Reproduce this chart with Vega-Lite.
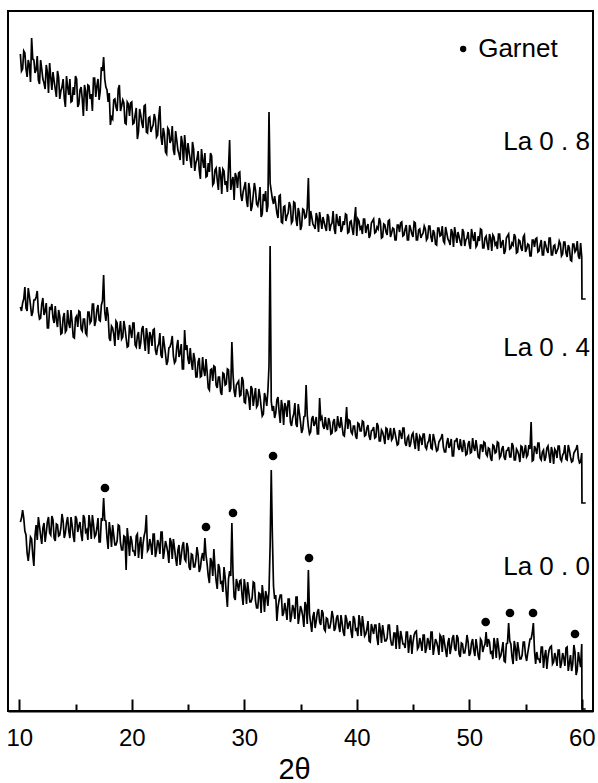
{
  "$schema": "https://vega.github.io/schema/vega-lite/v6.json",
  "description": "XRD patterns of La-doped samples, garnet peaks marked",
  "width": 585,
  "height": 700,
  "autosize": "none",
  "padding": {"left": 8, "top": 11, "right": 5, "bottom": 72},
  "background": "white",
  "config": {
    "view": {"stroke": "black", "strokeWidth": 2},
    "font": "Liberation Sans"
  },
  "datasets": {
    "xrd": [
      {"t":10.1,"la08":657,"la04":404,"la00":189},
      {"t":10.3,"la08":642,"la04":408,"la00":201},
      {"t":10.5,"la08":658,"la04":424,"la00":180},
      {"t":10.7,"la08":634,"la04":400,"la00":158},
      {"t":10.9,"la08":646,"la04":415,"la00":161},
      {"t":11.1,"la08":673,"la04":395,"la00":172},
      {"t":11.3,"la08":651,"la04":411,"la00":145},
      {"t":11.5,"la08":641,"la04":414,"la00":186},
      {"t":11.7,"la08":631,"la04":399,"la00":194},
      {"t":11.9,"la08":651,"la04":393,"la00":175},
      {"t":12.1,"la08":632,"la04":413,"la00":183},
      {"t":12.3,"la08":622,"la04":400,"la00":169},
      {"t":12.5,"la08":639,"la04":383,"la00":189},
      {"t":12.7,"la08":648,"la04":403,"la00":178},
      {"t":12.9,"la08":621,"la04":407,"la00":195},
      {"t":13.1,"la08":630,"la04":388,"la00":173},
      {"t":13.3,"la08":614,"la04":391,"la00":187},
      {"t":13.5,"la08":634,"la04":401,"la00":175},
      {"t":13.7,"la08":620,"la04":377,"la00":183},
      {"t":13.9,"la08":632,"la04":393,"la00":190},
      {"t":14.1,"la08":604,"la04":379,"la00":178},
      {"t":14.3,"la08":624,"la04":401,"la00":194},
      {"t":14.5,"la08":632,"la04":383,"la00":173},
      {"t":14.7,"la08":610,"la04":389,"la00":186},
      {"t":14.9,"la08":616,"la04":373,"la00":169},
      {"t":15.1,"la08":632,"la04":395,"la00":192},
      {"t":15.3,"la08":607,"la04":400,"la00":185},
      {"t":15.5,"la08":624,"la04":382,"la00":177},
      {"t":15.7,"la08":595,"la04":392,"la00":196},
      {"t":15.9,"la08":620,"la04":378,"la00":179},
      {"t":16.1,"la08":626,"la04":399,"la00":171},
      {"t":16.3,"la08":612,"la04":388,"la00":187},
      {"t":16.5,"la08":600,"la04":407,"la00":196},
      {"t":16.7,"la08":633,"la04":385,"la00":174},
      {"t":16.9,"la08":625,"la04":401,"la00":183},
      {"t":17.1,"la08":611,"la04":391,"la00":169},
      {"t":17.3,"la08":644,"la04":406,"la00":193},
      {"t":17.5,"la08":654,"la04":436,"la00":213},
      {"t":17.7,"la08":624,"la04":390,"la00":190},
      {"t":17.9,"la08":609,"la04":396,"la00":162},
      {"t":18.1,"la08":586,"la04":370,"la00":180},
      {"t":18.3,"la08":592,"la04":383,"la00":186},
      {"t":18.5,"la08":612,"la04":365,"la00":166},
      {"t":18.7,"la08":600,"la04":388,"la00":170},
      {"t":18.9,"la08":626,"la04":380,"la00":185},
      {"t":19.1,"la08":605,"la04":372,"la00":161},
      {"t":19.3,"la08":608,"la04":390,"la00":175},
      {"t":19.5,"la08":587,"la04":373,"la00":141},
      {"t":19.7,"la08":607,"la04":365,"la00":171},
      {"t":19.9,"la08":608,"la04":380,"la00":175},
      {"t":20.1,"la08":587,"la04":388,"la00":160},
      {"t":20.3,"la08":596,"la04":366,"la00":155},
      {"t":20.5,"la08":572,"la04":375,"la00":177},
      {"t":20.7,"la08":602,"la04":362,"la00":167},
      {"t":20.9,"la08":588,"la04":382,"la00":152},
      {"t":21.1,"la08":605,"la04":371,"la00":175},
      {"t":21.3,"la08":579,"la04":383,"la00":196},
      {"t":21.5,"la08":593,"la04":357,"la00":162},
      {"t":21.7,"la08":579,"la04":375,"la00":166},
      {"t":21.9,"la08":586,"la04":381,"la00":177},
      {"t":22.1,"la08":592,"la04":361,"la00":154},
      {"t":22.3,"la08":576,"la04":364,"la00":171},
      {"t":22.5,"la08":605,"la04":378,"la00":157},
      {"t":22.7,"la08":566,"la04":353,"la00":179},
      {"t":22.9,"la08":577,"la04":366,"la00":160},
      {"t":23.1,"la08":557,"la04":346,"la00":165},
      {"t":23.3,"la08":581,"la04":363,"la00":148},
      {"t":23.5,"la08":571,"la04":368,"la00":169},
      {"t":23.7,"la08":561,"la04":355,"la00":172},
      {"t":23.9,"la08":580,"la04":350,"la00":153},
      {"t":24.1,"la08":561,"la04":371,"la00":161},
      {"t":24.3,"la08":551,"la04":358,"la00":146},
      {"t":24.5,"la08":568,"la04":342,"la00":165},
      {"t":24.7,"la08":576,"la04":381,"la00":152},
      {"t":24.9,"la08":550,"la04":366,"la00":168},
      {"t":25.1,"la08":559,"la04":347,"la00":144},
      {"t":25.3,"la08":543,"la04":349,"la00":157},
      {"t":25.5,"la08":562,"la04":358,"la00":144},
      {"t":25.7,"la08":548,"la04":334,"la00":151},
      {"t":25.9,"la08":560,"la04":349,"la00":156},
      {"t":26.1,"la08":532,"la04":334,"la00":143},
      {"t":26.3,"la08":551,"la04":354,"la00":158},
      {"t":26.5,"la08":558,"la04":335,"la00":173},
      {"t":26.7,"la08":535,"la04":339,"la00":147},
      {"t":26.9,"la08":539,"la04":321,"la00":128},
      {"t":27.1,"la08":555,"la04":342,"la00":149},
      {"t":27.3,"la08":528,"la04":345,"la00":162},
      {"t":27.5,"la08":543,"la04":326,"la00":130},
      {"t":27.7,"la08":521,"la04":334,"la00":147},
      {"t":27.9,"la08":537,"la04":319,"la00":128},
      {"t":28.1,"la08":542,"la04":338,"la00":119},
      {"t":28.3,"la08":526,"la04":326,"la00":134},
      {"t":28.5,"la08":519,"la04":342,"la00":104},
      {"t":28.7,"la08":571,"la04":319,"la00":140},
      {"t":28.9,"la08":529,"la04":369,"la00":188},
      {"t":29.1,"la08":511,"la04":320,"la00":114},
      {"t":29.3,"la08":534,"la04":326,"la00":132},
      {"t":29.5,"la08":538,"la04":330,"la00":120},
      {"t":29.7,"la08":516,"la04":316,"la00":131},
      {"t":29.9,"la08":519,"la04":330,"la00":106},
      {"t":30.1,"la08":529,"la04":308,"la00":123},
      {"t":30.3,"la08":504,"la04":319,"la00":129},
      {"t":30.5,"la08":521,"la04":301,"la00":109},
      {"t":30.7,"la08":505,"la04":322,"la00":113},
      {"t":30.9,"la08":528,"la04":314,"la00":128},
      {"t":31.1,"la08":507,"la04":304,"la00":103},
      {"t":31.3,"la08":512,"la04":322,"la00":118},
      {"t":31.5,"la08":494,"la04":304,"la00":98},
      {"t":31.7,"la08":517,"la04":297,"la00":115},
      {"t":31.9,"la08":520,"la04":313,"la00":120},
      {"t":32.1,"la08":505,"la04":320,"la00":105},
      {"t":32.3,"la08":528,"la04":465,"la00":165},
      {"t":32.5,"la08":512,"la04":300,"la00":175},
      {"t":32.7,"la08":515,"la04":293,"la00":112},
      {"t":32.9,"la08":498,"la04":311,"la00":90},
      {"t":33.1,"la08":515,"la04":299,"la00":111},
      {"t":33.3,"la08":489,"la04":311,"la00":116},
      {"t":33.5,"la08":504,"la04":286,"la00":98},
      {"t":33.7,"la08":490,"la04":304,"la00":101},
      {"t":33.9,"la08":498,"la04":310,"la00":112},
      {"t":34.1,"la08":505,"la04":289,"la00":89},
      {"t":34.3,"la08":490,"la04":293,"la00":106},
      {"t":34.5,"la08":508,"la04":308,"la00":92},
      {"t":34.7,"la08":485,"la04":284,"la00":114},
      {"t":34.9,"la08":498,"la04":298,"la00":95},
      {"t":35.1,"la08":485,"la04":278,"la00":101},
      {"t":35.3,"la08":501,"la04":294,"la00":84},
      {"t":35.5,"la08":494,"la04":326,"la00":105},
      {"t":35.7,"la08":533,"la04":284,"la00":141},
      {"t":35.9,"la08":500,"la04":279,"la00":88},
      {"t":36.1,"la08":487,"la04":295,"la00":94},
      {"t":36.3,"la08":482,"la04":288,"la00":83},
      {"t":36.5,"la08":493,"la04":277,"la00":99},
      {"t":36.7,"la08":499,"la04":313,"la00":89},
      {"t":36.9,"la08":482,"la04":294,"la00":101},
      {"t":37.1,"la08":489,"la04":282,"la00":82},
      {"t":37.3,"la08":480,"la04":285,"la00":93},
      {"t":37.5,"la08":494,"la04":293,"la00":83},
      {"t":37.7,"la08":486,"la04":277,"la00":89},
      {"t":37.9,"la08":500,"la04":289,"la00":94},
      {"t":38.1,"la08":477,"la04":280,"la00":83},
      {"t":38.3,"la08":490,"la04":295,"la00":96},
      {"t":38.5,"la08":495,"la04":283,"la00":79},
      {"t":38.7,"la08":482,"la04":285,"la00":88},
      {"t":38.9,"la08":486,"la04":275,"la00":75},
      {"t":39.1,"la08":496,"la04":304,"la00":92},
      {"t":39.3,"la08":479,"la04":291,"la00":87},
      {"t":39.5,"la08":490,"la04":279,"la00":79},
      {"t":39.7,"la08":476,"la04":285,"la00":95},
      {"t":39.9,"la08":504,"la04":275,"la00":81},
      {"t":40.1,"la08":492,"la04":288,"la00":75},
      {"t":40.3,"la08":482,"la04":280,"la00":88},
      {"t":40.5,"la08":477,"la04":290,"la00":95},
      {"t":40.7,"la08":492,"la04":275,"la00":75},
      {"t":40.9,"la08":484,"la04":283,"la00":82},
      {"t":41.1,"la08":473,"la04":275,"la00":70},
      {"t":41.3,"la08":488,"la04":280,"la00":87},
      {"t":41.5,"la08":492,"la04":284,"la00":77},
      {"t":41.7,"la08":479,"la04":274,"la00":86},
      {"t":41.9,"la08":482,"la04":285,"la00":66},
      {"t":42.1,"la08":489,"la04":270,"la00":81},
      {"t":42.3,"la08":474,"la04":279,"la00":86},
      {"t":42.5,"la08":486,"la04":267,"la00":70},
      {"t":42.7,"la08":476,"la04":282,"la00":73},
      {"t":42.9,"la08":491,"la04":276,"la00":86},
      {"t":43.1,"la08":478,"la04":271,"la00":66},
      {"t":43.3,"la08":482,"la04":283,"la00":78},
      {"t":43.5,"la08":471,"la04":272,"la00":62},
      {"t":43.7,"la08":486,"la04":267,"la00":75},
      {"t":43.9,"la08":488,"la04":277,"la00":80},
      {"t":44.1,"la08":475,"la04":283,"la00":67},
      {"t":44.3,"la08":482,"la04":268,"la00":63},
      {"t":44.5,"la08":471,"la04":273,"la00":79},
      {"t":44.7,"la08":486,"la04":264,"la00":70},
      {"t":44.9,"la08":477,"la04":276,"la00":57},
      {"t":45.1,"la08":489,"la04":269,"la00":76},
      {"t":45.3,"la08":471,"la04":278,"la00":80},
      {"t":45.5,"la08":481,"la04":260,"la00":64},
      {"t":45.7,"la08":473,"la04":273,"la00":68},
      {"t":45.9,"la08":478,"la04":277,"la00":76},
      {"t":46.1,"la08":482,"la04":264,"la00":58},
      {"t":46.3,"la08":473,"la04":268,"la00":73},
      {"t":46.5,"la08":485,"la04":277,"la00":61},
      {"t":46.7,"la08":469,"la04":262,"la00":79},
      {"t":46.9,"la08":478,"la04":272,"la00":64},
      {"t":47.1,"la08":466,"la04":260,"la00":69},
      {"t":47.3,"la08":483,"la04":269,"la00":56},
      {"t":47.5,"la08":476,"la04":273,"la00":74},
      {"t":47.7,"la08":470,"la04":264,"la00":76},
      {"t":47.9,"la08":484,"la04":259,"la00":61},
      {"t":48.1,"la08":472,"la04":273,"la00":68},
      {"t":48.3,"la08":466,"la04":266,"la00":57},
      {"t":48.5,"la08":478,"la04":255,"la00":73},
      {"t":48.7,"la08":484,"la04":270,"la00":63},
      {"t":48.9,"la08":468,"la04":273,"la00":76},
      {"t":49.1,"la08":474,"la04":261,"la00":57},
      {"t":49.3,"la08":465,"la04":263,"la00":68},
      {"t":49.5,"la08":479,"la04":271,"la00":58},
      {"t":49.7,"la08":471,"la04":256,"la00":65},
      {"t":49.9,"la08":479,"la04":267,"la00":69},
      {"t":50.1,"la08":462,"la04":258,"la00":58},
      {"t":50.3,"la08":475,"la04":273,"la00":72},
      {"t":50.5,"la08":479,"la04":260,"la00":55},
      {"t":50.7,"la08":466,"la04":263,"la00":64},
      {"t":50.9,"la08":470,"la04":253,"la00":51},
      {"t":51.1,"la08":481,"la04":266,"la00":70},
      {"t":51.3,"la08":463,"la04":269,"la00":64},
      {"t":51.5,"la08":475,"la04":257,"la00":79},
      {"t":51.7,"la08":461,"la04":263,"la00":72},
      {"t":51.9,"la08":473,"la04":253,"la00":58},
      {"t":52.1,"la08":476,"la04":266,"la00":52},
      {"t":52.3,"la08":466,"la04":258,"la00":66},
      {"t":52.5,"la08":462,"la04":269,"la00":73},
      {"t":52.7,"la08":477,"la04":253,"la00":53},
      {"t":52.9,"la08":468,"la04":262,"la00":61},
      {"t":53.1,"la08":457,"la04":254,"la00":50},
      {"t":53.3,"la08":473,"la04":260,"la00":67},
      {"t":53.5,"la08":477,"la04":264,"la00":88},
      {"t":53.7,"la08":463,"la04":254,"la00":67},
      {"t":53.9,"la08":466,"la04":265,"la00":47},
      {"t":54.1,"la08":474,"la04":251,"la00":63},
      {"t":54.3,"la08":459,"la04":260,"la00":69},
      {"t":54.5,"la08":470,"la04":249,"la00":52},
      {"t":54.7,"la08":460,"la04":264,"la00":56},
      {"t":54.9,"la08":476,"la04":259,"la00":69},
      {"t":55.1,"la08":462,"la04":254,"la00":50},
      {"t":55.3,"la08":466,"la04":266,"la00":65},
      {"t":55.5,"la08":455,"la04":289,"la00":72},
      {"t":55.7,"la08":471,"la04":251,"la00":88},
      {"t":55.9,"la08":472,"la04":262,"la00":47},
      {"t":56.1,"la08":459,"la04":268,"la00":52},
      {"t":56.3,"la08":466,"la04":253,"la00":48},
      {"t":56.5,"la08":456,"la04":259,"la00":64},
      {"t":56.7,"la08":470,"la04":250,"la00":55},
      {"t":56.9,"la08":461,"la04":263,"la00":42},
      {"t":57.1,"la08":473,"la04":256,"la00":61},
      {"t":57.3,"la08":456,"la04":264,"la00":65},
      {"t":57.5,"la08":465,"la04":247,"la00":49},
      {"t":57.7,"la08":457,"la04":260,"la00":53},
      {"t":57.9,"la08":463,"la04":265,"la00":61},
      {"t":58.1,"la08":467,"la04":252,"la00":43},
      {"t":58.3,"la08":457,"la04":256,"la00":58},
      {"t":58.5,"la08":469,"la04":266,"la00":45},
      {"t":58.7,"la08":454,"la04":251,"la00":64},
      {"t":58.9,"la08":463,"la04":261,"la00":48},
      {"t":59.1,"la08":450,"la04":249,"la00":40},
      {"t":59.3,"la08":467,"la04":258,"la00":66},
      {"t":59.5,"la08":461,"la04":262,"la00":36},
      {"t":59.7,"la08":455,"la04":253,"la00":59},
      {"t":59.9,"la08":468,"la04":249,"la00":44},
      {"t":60.0,"la08":454,"la04":258,"la00":67},
      {"t":60.02,"la08":412,"la04":208,"la00":2},
      {"t":60.35,"la08":412,"la04":208,"la00":2},
      {"t":10.2,"la08":640,"la04":400,"la00":193},
      {"t":10.4,"la08":660,"la04":412,"la00":193},
      {"t":10.6,"la08":642,"la04":403,"la00":176},
      {"t":10.8,"la08":651,"la04":423,"la00":150},
      {"t":11.0,"la08":629,"la04":406,"la00":174},
      {"t":11.2,"la08":652,"la04":399,"la00":156},
      {"t":11.4,"la08":638,"la04":411,"la00":175},
      {"t":11.6,"la08":655,"la04":420,"la00":171},
      {"t":11.8,"la08":627,"la04":392,"la00":185},
      {"t":12.0,"la08":642,"la04":407,"la00":167},
      {"t":12.2,"la08":628,"la04":396,"la00":188},
      {"t":12.4,"la08":646,"la04":408,"la00":178},
      {"t":12.6,"la08":618,"la04":383,"la00":194},
      {"t":12.8,"la08":634,"la04":402,"la00":176},
      {"t":13.0,"la08":639,"la04":393,"la00":191},
      {"t":13.2,"la08":622,"la04":405,"la00":170},
      {"t":13.4,"la08":640,"la04":384,"la00":186},
      {"t":13.6,"la08":612,"la04":395,"la00":176},
      {"t":13.8,"la08":624,"la04":378,"la00":197},
      {"t":14.0,"la08":613,"la04":398,"la00":173},
      {"t":14.2,"la08":635,"la04":381,"la00":188},
      {"t":14.4,"la08":616,"la04":388,"la00":180},
      {"t":14.6,"la08":609,"la04":401,"la00":194},
      {"t":14.8,"la08":624,"la04":374,"la00":175},
      {"t":15.0,"la08":635,"la04":393,"la00":195},
      {"t":15.2,"la08":604,"la04":384,"la00":179},
      {"t":15.4,"la08":621,"la04":399,"la00":189},
      {"t":15.6,"la08":612,"la04":380,"la00":170},
      {"t":15.8,"la08":626,"la04":392,"la00":193},
      {"t":16.0,"la08":600,"la04":376,"la00":181},
      {"t":16.2,"la08":625,"la04":399,"la00":196},
      {"t":16.4,"la08":617,"la04":390,"la00":172},
      {"t":16.6,"la08":633,"la04":407,"la00":187},
      {"t":16.8,"la08":614,"la04":390,"la00":176},
      {"t":17.0,"la08":632,"la04":406,"la00":193},
      {"t":17.2,"la08":620,"la04":390,"la00":169},
      {"t":17.4,"la08":640,"la04":410,"la00":190},
      {"t":17.6,"la08":632,"la04":399,"la00":191},
      {"t":17.8,"la08":621,"la04":404,"la00":173},
      {"t":18.0,"la08":618,"la04":373,"la00":189},
      {"t":18.2,"la08":594,"la04":385,"la00":164},
      {"t":18.4,"la08":611,"la04":377,"la00":176},
      {"t":18.6,"la08":604,"la04":390,"la00":166},
      {"t":18.8,"la08":622,"la04":371,"la00":186},
      {"t":19.0,"la08":600,"la04":390,"la00":168},
      {"t":19.2,"la08":611,"la04":374,"la00":161},
      {"t":19.4,"la08":588,"la04":383,"la00":174},
      {"t":19.6,"la08":609,"la04":364,"la00":183},
      {"t":19.8,"la08":595,"la04":386,"la00":155},
      {"t":20.0,"la08":609,"la04":373,"la00":170},
      {"t":20.2,"la08":588,"la04":388,"la00":160},
      {"t":20.4,"la08":603,"la04":364,"la00":175},
      {"t":20.6,"la08":579,"la04":379,"la00":153},
      {"t":20.8,"la08":596,"la04":368,"la00":174},
      {"t":21.0,"la08":583,"la04":385,"la00":167},
      {"t":21.2,"la08":606,"la04":360,"la00":180},
      {"t":21.4,"la08":578,"la04":375,"la00":160},
      {"t":21.6,"la08":594,"la04":379,"la00":172},
      {"t":21.8,"la08":583,"la04":365,"la00":156},
      {"t":22.0,"la08":597,"la04":382,"la00":177},
      {"t":22.2,"la08":574,"la04":356,"la00":160},
      {"t":22.4,"la08":594,"la04":367,"la00":167},
      {"t":22.6,"la08":574,"la04":356,"la00":179},
      {"t":22.8,"la08":583,"la04":375,"la00":152},
      {"t":23.0,"la08":559,"la04":357,"la00":170},
      {"t":23.2,"la08":583,"la04":350,"la00":159},
      {"t":23.4,"la08":568,"la04":364,"la00":173},
      {"t":23.6,"la08":585,"la04":375,"la00":152},
      {"t":23.8,"la08":556,"la04":348,"la00":163},
      {"t":24.0,"la08":571,"la04":364,"la00":145},
      {"t":24.2,"la08":557,"la04":354,"la00":166},
      {"t":24.4,"la08":575,"la04":367,"la00":155},
      {"t":24.6,"la08":546,"la04":342,"la00":169},
      {"t":24.8,"la08":563,"la04":361,"la00":150},
      {"t":25.0,"la08":568,"la04":352,"la00":163},
      {"t":25.2,"la08":551,"la04":363,"la00":141},
      {"t":25.4,"la08":569,"la04":341,"la00":156},
      {"t":25.6,"la08":540,"la04":352,"la00":144},
      {"t":25.8,"la08":552,"la04":334,"la00":164},
      {"t":26.0,"la08":541,"la04":353,"la00":139},
      {"t":26.2,"la08":562,"la04":335,"la00":153},
      {"t":26.4,"la08":543,"la04":341,"la00":150},
      {"t":26.6,"la08":534,"la04":352,"la00":156},
      {"t":26.8,"la08":548,"la04":323,"la00":135},
      {"t":27.0,"la08":558,"la04":341,"la00":153},
      {"t":27.2,"la08":526,"la04":330,"la00":135},
      {"t":27.4,"la08":541,"la04":344,"la00":143},
      {"t":27.6,"la08":531,"la04":323,"la00":122},
      {"t":27.8,"la08":544,"la04":334,"la00":143},
      {"t":28.0,"la08":517,"la04":316,"la00":129},
      {"t":28.2,"la08":540,"la04":337,"la00":144},
      {"t":28.4,"la08":530,"la04":327,"la00":118},
      {"t":28.6,"la08":543,"la04":341,"la00":132},
      {"t":28.8,"la08":521,"la04":323,"la00":135},
      {"t":29.0,"la08":534,"la04":337,"la00":138},
      {"t":29.2,"la08":538,"la04":314,"la00":111},
      {"t":29.4,"la08":523,"la04":328,"la00":127},
      {"t":29.6,"la08":539,"la04":315,"la00":130},
      {"t":29.8,"la08":510,"la04":334,"la00":116},
      {"t":30.0,"la08":524,"la04":309,"la00":132},
      {"t":30.2,"la08":511,"la04":322,"la00":107},
      {"t":30.4,"la08":528,"la04":313,"la00":119},
      {"t":30.6,"la08":500,"la04":325,"la00":109},
      {"t":30.8,"la08":516,"la04":305,"la00":129},
      {"t":31.0,"la08":521,"la04":323,"la00":110},
      {"t":31.2,"la08":505,"la04":306,"la00":103},
      {"t":31.4,"la08":524,"la04":315,"la00":117},
      {"t":31.6,"la08":497,"la04":295,"la00":126},
      {"t":31.8,"la08":510,"la04":318,"la00":99},
      {"t":32.0,"la08":499,"la04":305,"la00":115},
      {"t":32.2,"la08":599,"la04":345,"la00":120},
      {"t":32.4,"la08":520,"la04":310,"la00":241},
      {"t":32.6,"la08":507,"la04":305,"la00":125},
      {"t":32.8,"la08":507,"la04":298,"la00":116},
      {"t":33.0,"la08":493,"la04":314,"la00":104},
      {"t":33.2,"la08":516,"la04":288,"la00":116},
      {"t":33.4,"la08":488,"la04":304,"la00":95},
      {"t":33.6,"la08":505,"la04":308,"la00":108},
      {"t":33.8,"la08":495,"la04":294,"la00":91},
      {"t":34.0,"la08":509,"la04":310,"la00":112},
      {"t":34.2,"la08":488,"la04":285,"la00":95},
      {"t":34.4,"la08":509,"la04":297,"la00":102},
      {"t":34.6,"la08":492,"la04":287,"la00":114},
      {"t":34.8,"la08":503,"la04":307,"la00":87},
      {"t":35.0,"la08":481,"la04":289,"la00":105},
      {"t":35.2,"la08":502,"la04":282,"la00":95},
      {"t":35.4,"la08":493,"la04":295,"la00":109},
      {"t":35.6,"la08":503,"la04":296,"la00":87},
      {"t":35.8,"la08":485,"la04":277,"la00":97},
      {"t":36.0,"la08":494,"la04":292,"la00":79},
      {"t":36.2,"la08":485,"la04":285,"la00":99},
      {"t":36.4,"la08":498,"la04":294,"la00":90},
      {"t":36.6,"la08":479,"la04":277,"la00":102},
      {"t":36.8,"la08":491,"la04":292,"la00":86},
      {"t":37.0,"la08":494,"la04":285,"la00":98},
      {"t":37.2,"la08":484,"la04":294,"la00":80},
      {"t":37.4,"la08":497,"la04":281,"la00":92},
      {"t":37.6,"la08":480,"la04":289,"la00":83},
      {"t":37.8,"la08":488,"la04":278,"la00":100},
      {"t":38.0,"la08":482,"la04":292,"la00":80},
      {"t":38.2,"la08":497,"la04":281,"la00":93},
      {"t":38.4,"la08":485,"la04":286,"la00":85},
      {"t":38.6,"la08":479,"la04":294,"la00":96},
      {"t":38.8,"la08":490,"la04":276,"la00":79},
      {"t":39.0,"la08":497,"la04":288,"la00":96},
      {"t":39.2,"la08":478,"la04":282,"la00":82},
      {"t":39.4,"la08":489,"la04":290,"la00":90},
      {"t":39.6,"la08":482,"la04":277,"la00":73},
      {"t":39.8,"la08":492,"la04":285,"la00":92},
      {"t":40.0,"la08":475,"la04":272,"la00":82},
      {"t":40.2,"la08":490,"la04":287,"la00":96},
      {"t":40.4,"la08":484,"la04":280,"la00":75},
      {"t":40.6,"la08":492,"la04":289,"la00":86},
      {"t":40.8,"la08":478,"la04":276,"la00":77},
      {"t":41.0,"la08":487,"la04":286,"la00":90},
      {"t":41.2,"la08":476,"la04":271,"la00":69},
      {"t":41.4,"la08":490,"la04":281,"la00":82},
      {"t":41.6,"la08":478,"la04":273,"la00":86},
      {"t":41.8,"la08":484,"la04":288,"la00":73},
      {"t":42.0,"la08":493,"la04":270,"la00":88},
      {"t":42.2,"la08":473,"la04":281,"la00":68},
      {"t":42.4,"la08":487,"la04":274,"la00":78},
      {"t":42.6,"la08":479,"la04":283,"la00":70},
      {"t":42.8,"la08":490,"la04":271,"la00":86},
      {"t":43.0,"la08":474,"la04":283,"la00":72},
      {"t":43.2,"la08":483,"la04":273,"la00":66},
      {"t":43.4,"la08":471,"la04":278,"la00":78},
      {"t":43.6,"la08":486,"la04":266,"la00":86},
      {"t":43.8,"la08":479,"la04":281,"la00":62},
      {"t":44.0,"la08":489,"la04":272,"la00":74},
      {"t":44.2,"la08":476,"la04":283,"la00":67},
      {"t":44.4,"la08":486,"la04":265,"la00":79},
      {"t":44.6,"la08":471,"la04":275,"la00":58},
      {"t":44.8,"la08":482,"la04":268,"la00":76},
      {"t":45.0,"la08":474,"la04":278,"la00":69},
      {"t":45.2,"la08":488,"la04":262,"la00":79},
      {"t":45.4,"la08":471,"la04":272,"la00":62},
      {"t":45.6,"la08":482,"la04":275,"la00":73},
      {"t":45.8,"la08":476,"la04":266,"la00":60},
      {"t":46.0,"la08":485,"la04":277,"la00":76},
      {"t":46.2,"la08":471,"la04":262,"la00":63},
      {"t":46.4,"la08":485,"la04":270,"la00":69},
      {"t":46.6,"la08":474,"la04":263,"la00":79},
      {"t":46.8,"la08":481,"la04":277,"la00":56},
      {"t":47.0,"la08":467,"la04":266,"la00":72},
      {"t":47.2,"la08":483,"la04":261,"la00":64},
      {"t":47.4,"la08":475,"la04":271,"la00":76},
      {"t":47.6,"la08":485,"la04":277,"la00":59},
      {"t":47.8,"la08":468,"la04":259,"la00":68},
      {"t":48.0,"la08":478,"la04":268,"la00":54},
      {"t":48.2,"la08":470,"la04":263,"la00":73},
      {"t":48.4,"la08":482,"la04":272,"la00":64},
      {"t":48.6,"la08":464,"la04":255,"la00":76},
      {"t":48.8,"la08":476,"la04":270,"la00":60},
      {"t":49.0,"la08":479,"la04":264,"la00":73},
      {"t":49.2,"la08":469,"la04":272,"la00":54},
      {"t":49.4,"la08":482,"la04":259,"la00":67},
      {"t":49.6,"la08":465,"la04":267,"la00":58},
      {"t":49.8,"la08":473,"la04":257,"la00":76},
      {"t":50.0,"la08":467,"la04":270,"la00":55},
      {"t":50.2,"la08":482,"la04":259,"la00":68},
      {"t":50.4,"la08":470,"la04":264,"la00":61},
      {"t":50.6,"la08":464,"la04":271,"la00":72},
      {"t":50.8,"la08":475,"la04":254,"la00":55},
      {"t":51.0,"la08":482,"la04":266,"la00":72},
      {"t":51.2,"la08":463,"la04":259,"la00":59},
      {"t":51.4,"la08":473,"la04":268,"la00":67},
      {"t":51.6,"la08":467,"la04":255,"la00":64},
      {"t":51.8,"la08":477,"la04":262,"la00":69},
      {"t":52.0,"la08":460,"la04":250,"la00":59},
      {"t":52.2,"la08":474,"la04":265,"la00":73},
      {"t":52.4,"la08":468,"la04":259,"la00":53},
      {"t":52.6,"la08":477,"la04":268,"la00":65},
      {"t":52.8,"la08":463,"la04":255,"la00":55},
      {"t":53.0,"la08":471,"la04":265,"la00":69},
      {"t":53.2,"la08":460,"la04":251,"la00":49},
      {"t":53.4,"la08":475,"la04":261,"la00":68},
      {"t":53.6,"la08":462,"la04":254,"la00":70},
      {"t":53.8,"la08":468,"la04":268,"la00":54},
      {"t":54.0,"la08":477,"la04":251,"la00":70},
      {"t":54.2,"la08":458,"la04":262,"la00":50},
      {"t":54.4,"la08":471,"la04":256,"la00":61},
      {"t":54.6,"la08":463,"la04":265,"la00":52},
      {"t":54.8,"la08":474,"la04":253,"la00":69},
      {"t":55.0,"la08":459,"la04":266,"la00":56},
      {"t":55.2,"la08":467,"la04":256,"la00":58},
      {"t":55.4,"la08":455,"la04":262,"la00":72},
      {"t":55.6,"la08":471,"la04":250,"la00":78},
      {"t":55.8,"la08":464,"la04":265,"la00":60},
      {"t":56.0,"la08":473,"la04":257,"la00":59},
      {"t":56.2,"la08":460,"la04":268,"la00":52},
      {"t":56.4,"la08":471,"la04":251,"la00":64},
      {"t":56.6,"la08":456,"la04":261,"la00":43},
      {"t":56.8,"la08":466,"la04":254,"la00":61},
      {"t":57.0,"la08":458,"la04":265,"la00":54},
      {"t":57.2,"la08":473,"la04":248,"la00":64},
      {"t":57.4,"la08":456,"la04":259,"la00":47},
      {"t":57.6,"la08":466,"la04":262,"la00":58},
      {"t":57.8,"la08":460,"la04":253,"la00":45},
      {"t":58.0,"la08":470,"la04":265,"la00":61},
      {"t":58.2,"la08":455,"la04":250,"la00":48},
      {"t":58.4,"la08":469,"la04":258,"la00":53},
      {"t":58.6,"la08":458,"la04":252,"la00":63},
      {"t":58.8,"la08":466,"la04":266,"la00":40},
      {"t":59.0,"la08":451,"la04":254,"la00":56},
      {"t":59.2,"la08":467,"la04":250,"la00":47},
      {"t":59.4,"la08":459,"la04":260,"la00":59},
      {"t":59.6,"la08":470,"la04":266,"la00":41},
      {"t":59.8,"la08":452,"la04":248,"la00":51}
    ],
    "garnet": [
      {"t":17.62,"intensity":223},
      {"t":26.6,"intensity":184},
      {"t":29.0,"intensity":198},
      {"t":32.56,"intensity":255},
      {"t":35.76,"intensity":153},
      {"t":51.46,"intensity":89},
      {"t":53.62,"intensity":98},
      {"t":55.67,"intensity":98},
      {"t":59.4,"intensity":77}
    ],
    "labels": [
      {"t":60.73,"intensity":569,"label":"La 0 . 8"},
      {"t":60.73,"intensity":363,"label":"La 0 . 4"},
      {"t":60.73,"intensity":144,"label":"La 0 . 0"}
    ],
    "legend": [
      {"t":49.46,"intensity":662,"label":"Garnet"}
    ]
  },
  "layer": [
    {
      "data": {"name": "xrd"},
      "transform": [
        {"fold": ["la08", "la04", "la00"], "as": ["sample", "intensity"]}
      ],
      "mark": {"type": "line", "color": "black", "strokeWidth": 1.7, "strokeJoin": "miter"},
      "encoding": {
        "x": {
          "field": "t",
          "type": "quantitative",
          "scale": {"domain": [9, 61], "nice": false, "zero": false},
          "axis": {
            "orient": "bottom",
            "values": [10, 20, 30, 40, 50, 60],
            "tickSize": -12,
            "tickWidth": 2,
            "tickColor": "black",
            "domain": true,
            "domainColor": "black",
            "domainWidth": 2,
            "grid": false,
            "labelFont": "Liberation Sans",
            "labelFontSize": 24,
            "labelColor": "black",
            "labelPadding": 46,
            "labelBaseline": "alphabetic",
            "labelFlush": false,
            "labelOverlap": false,
            "title": "2θ",
            "titleFont": "Liberation Sans",
            "titleFontSize": 29,
            "titleFontWeight": "normal",
            "titleColor": "black",
            "titleX": 286,
            "titleY": 67,
            "titleAlign": "center",
            "titleBaseline": "alphabetic"
          }
        },
        "y": {
          "field": "intensity",
          "type": "quantitative",
          "scale": {"domain": [0, 700], "nice": false, "zero": false},
          "axis": null
        },
        "detail": {"field": "sample", "type": "nominal"}
      }
    },
    {
      "data": {"name": "garnet"},
      "mark": {"type": "point", "filled": true, "color": "black", "size": 75, "opacity": 1},
      "encoding": {
        "x": {
          "field": "t",
          "type": "quantitative",
          "axis": {
            "orient": "bottom",
            "values": [15, 25, 35, 45, 55],
            "tickSize": -7,
            "tickWidth": 2,
            "tickColor": "black",
            "labels": false,
            "domain": false,
            "grid": false,
            "title": null
          }
        },
        "y": {"field": "intensity", "type": "quantitative", "axis": null}
      }
    },
    {
      "data": {"name": "legend"},
      "mark": {"type": "point", "filled": true, "color": "black", "size": 40, "opacity": 1},
      "encoding": {
        "x": {"field": "t", "type": "quantitative", "axis": null},
        "y": {"field": "intensity", "type": "quantitative", "axis": null}
      }
    },
    {
      "data": {"name": "legend"},
      "mark": {"type": "text", "align": "left", "baseline": "middle", "dx": 15, "fontSize": 26, "font": "Liberation Sans", "color": "black"},
      "encoding": {
        "x": {"field": "t", "type": "quantitative", "axis": null},
        "y": {"field": "intensity", "type": "quantitative", "axis": null},
        "text": {"field": "label"}
      }
    },
    {
      "data": {"name": "labels"},
      "mark": {"type": "text", "align": "right", "baseline": "middle", "fontSize": 26, "font": "Liberation Sans", "color": "black"},
      "encoding": {
        "x": {"field": "t", "type": "quantitative", "axis": null},
        "y": {"field": "intensity", "type": "quantitative", "axis": null},
        "text": {"field": "label"}
      }
    }
  ],
  "resolve": {"axis": {"x": "independent"}}
}
